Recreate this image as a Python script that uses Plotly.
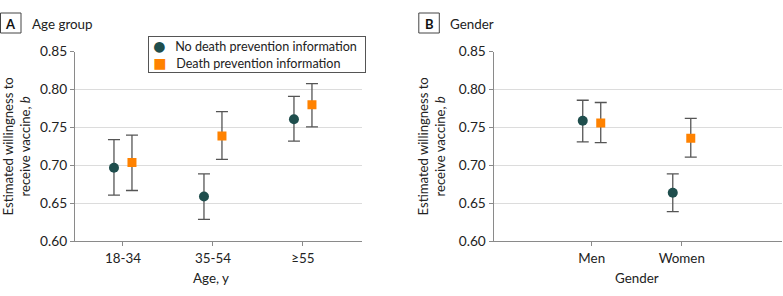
import plotly.graph_objects as go

# ---- data ----
age_groups = ["18-34", "35-54", "≥55"]
age_no_info = [0.697, 0.659, 0.761]
age_no_info_lo = [0.661, 0.629, 0.732]
age_no_info_hi = [0.734, 0.689, 0.791]
age_info = [0.704, 0.739, 0.780]
age_info_lo = [0.667, 0.708, 0.751]
age_info_hi = [0.740, 0.771, 0.808]

genders = ["Men", "Women"]
gen_no_info = [0.759, 0.664]
gen_no_info_lo = [0.731, 0.639]
gen_no_info_hi = [0.786, 0.689]
gen_info = [0.756, 0.736]
gen_info_lo = [0.730, 0.711]
gen_info_hi = [0.783, 0.762]

y_ticks = [0.60, 0.65, 0.70, 0.75, 0.80, 0.85]
series_names = ["No death prevention information", "Death prevention information"]

# ---- styles ----
FONT = "Lato"
C_NO = "#1f4e4d"
C_INFO = "#ff8200"
ERR_C = "#555555"
AX_C = "#8a8a8a"
GRID_C = "#dcdcdc"
TXT = "#222222"
FS = 13.4
W, H = 783, 296


def err(v, lo, hi):
    return dict(type="data", symmetric=False,
                array=[h - m for m, h in zip(v, hi)],
                arrayminus=[m - l for m, l in zip(v, lo)],
                color=ERR_C, thickness=1.3, width=6)


fig = go.Figure()

panels = [
    (age_groups, age_no_info, age_no_info_lo, age_no_info_hi,
     age_info, age_info_lo, age_info_hi, "x", "y"),
    (genders, gen_no_info, gen_no_info_lo, gen_no_info_hi,
     gen_info, gen_info_lo, gen_info_hi, "x2", "y2"),
]
offset = 0.1
for cats, v0, l0, h0, v1, l1, h1, xa, ya in panels:
    idx = list(range(len(cats)))
    fig.add_trace(go.Scatter(
        x=[i - offset for i in idx], y=v0, mode="markers", name=series_names[0],
        marker=dict(symbol="circle", size=10, color=C_NO),
        error_y=err(v0, l0, h0), xaxis=xa, yaxis=ya, showlegend=False))
    fig.add_trace(go.Scatter(
        x=[i + offset for i in idx], y=v1, mode="markers", name=series_names[1],
        marker=dict(symbol="square", size=9, color=C_INFO),
        error_y=err(v1, l1, h1), xaxis=xa, yaxis=ya, showlegend=False))

ydom = [(H - 241.3) / H, (H - 51.7) / H]
common_x = dict(showline=True, linecolor=AX_C, linewidth=1.3, ticks="outside",
                ticklen=4, tickcolor=AX_C, showgrid=False, zeroline=False,
                automargin=False,
                tickfont=dict(family=FONT, size=FS, color=TXT))
common_y = dict(range=[0.6, 0.85], tickvals=y_ticks, tickformat=".2f",
                showline=True, linecolor=AX_C, linewidth=1.3, ticks="outside",
                ticklen=4, tickcolor=AX_C, gridcolor=GRID_C, gridwidth=1,
                zeroline=False, automargin=False,
                tickfont=dict(family=FONT, size=FS + 0.3, color=TXT))

fig.update_layout(
    width=W, height=H, autosize=False, margin=dict(l=0, r=0, t=0, b=0, pad=0),
    paper_bgcolor="white", plot_bgcolor="white",
    font=dict(family=FONT, size=FS, color=TXT),
    xaxis=dict(domain=[75 / W, 362 / W], range=[-0.533, 2.656],
               tickvals=list(range(len(age_groups))), ticktext=age_groups,
               anchor="y", **common_x),
    yaxis=dict(domain=ydom, anchor="x", **common_y),
    xaxis2=dict(domain=[493.7 / W, 781.7 / W], range=[-1.089, 2.11],
                tickvals=list(range(len(genders))), ticktext=genders,
                anchor="y2", **common_x),
    yaxis2=dict(domain=ydom, anchor="x2", **common_y),
    showlegend=False,
)


def px(x):
    return x / W


def py(y):
    return 1 - y / H


# x-axis titles
for title, cx in (("Age, y", 210.5), ("Gender", 636.7)):
    fig.add_annotation(text=title, xref="paper", yref="paper", x=px(cx), y=py(278),
                       xanchor="center", yanchor="middle", showarrow=False,
                       font=dict(family=FONT, size=FS, color=TXT))

# y-axis titles
ytitle = "Estimated willingness to<br>receive vaccine, <i>b</i>"
for xpx in (15.5, 430.5):
    fig.add_annotation(text=ytitle, xref="paper", yref="paper",
                       x=px(xpx), y=py(147), textangle=-90,
                       showarrow=False, font=dict(family=FONT, size=13.1, color=TXT),
                       xanchor="center", yanchor="middle")

# panel labels
for letter, title, xl in (("A", "Age group", 0), ("B", "Gender", 418.3)):
    fig.add_shape(type="rect", xref="paper", yref="paper",
                  x0=px(xl + 0.5), x1=px(xl + 21), y0=py(33), y1=py(13),
                  line=dict(color="#444", width=1), fillcolor="white")
    fig.add_annotation(text=f"<b>{letter}</b>", xref="paper", yref="paper",
                       x=px(xl + 10.75), y=py(23.5), xanchor="center", yanchor="middle",
                       showarrow=False, font=dict(family=FONT, size=13, color="#111"))
    fig.add_annotation(text=title, xref="paper", yref="paper",
                       x=px(xl + 30), y=py(23.5), xanchor="left", yanchor="middle",
                       showarrow=False, font=dict(family=FONT, size=FS, color=TXT))

# legend: bordered box with coloured glyphs and labels, as one text block
legend_text = (
    f"&nbsp;<span style='color:{C_NO};font-family:DejaVu Sans;font-size:14px'>●</span>"
    f"&nbsp;&nbsp;&nbsp;{series_names[0]}<br>"
    f"&nbsp;<span style='color:{C_INFO};font-family:DejaVu Sans;font-size:14px'>■</span>"
    f"&nbsp;&nbsp;&nbsp;{series_names[1]}"
)
fig.add_annotation(text=legend_text, xref="paper", yref="paper",
                   x=px(147.5), y=py(35.5), xanchor="left", yanchor="top",
                   align="left", showarrow=False, bgcolor="white",
                   bordercolor="#555", borderwidth=1, borderpad=1,
                   width=214, height=33,
                   font=dict(family=FONT, size=12.6, color=TXT))

fig.write_html("out.html", config={"displayModeBar": False},
               post_script="document.body.style.margin='0';")
